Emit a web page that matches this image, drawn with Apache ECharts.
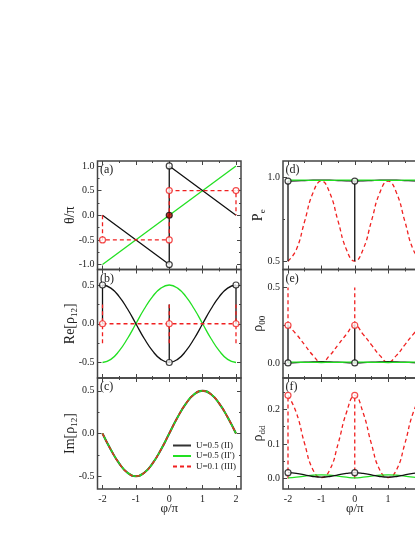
<!DOCTYPE html>
<html>
<head>
<meta charset="utf-8">
<script src="https://cdn.jsdelivr.net/npm/echarts@6/dist/echarts.min.js"></script>
<style>
html, body { margin: 0; padding: 0; background: #fff; overflow: hidden; }
#chart { width: 440px; height: 537px; }
</style>
</head>
<body>
<div id="chart"></div>
<script>
// shared x grid (phi/pi)
const PHI = [-2, -1.75, -1.5, -1.25, -1, -0.75, -0.5, -0.25, 0, 0.25, 0.5, 0.75, 1, 1.25, 1.5, 1.75, 2];
const X_TICKS = [-2, -1, 0, 1, 2];
const X_MINOR = [-1.5, -0.5, 0.5, 1.5];

// (a) theta/pi
const TH_BLACK = [[-2, 0], [0, -1], [0, 1], [2, 0]];
const TH_GREEN = [[-2, -1], [2, 1]];
const TH_RED = [[-2, 0], [-2, -0.5], [0, -0.5], [0, 0.5], [2, 0.5], [2, 0]];
const TH_BLACK_PTS = [[0, -1], [0, 1]];
const TH_RED_PTS = [[-2, -0.5], [0, -0.5], [0, 0.5], [2, 0.5]];
const TH_DOT = [[0, 0]];
const A_TICKS = [-1, -0.5, 0, 0.5, 1];
const A_MINOR = [-0.75, -0.25, 0.25, 0.75];

// (b) Re[rho12]
const RE_BLACK = [0.5, 0.46, 0.35, 0.19, 0, -0.19, -0.35, -0.46, -0.5, -0.46, -0.35, -0.19, 0, 0.19, 0.35, 0.46, 0.5];
const RE_GREEN = [-0.5, -0.46, -0.35, -0.19, 0, 0.19, 0.35, 0.46, 0.5, 0.46, 0.35, 0.19, 0, -0.19, -0.35, -0.46, -0.5];
const RE_RED = [[-2, 0], [2, 0]];
const RE_BLACK_V = [[[-2, 0], [-2, 0.5]], [[0, -0.5], [0, 0.25]], [[2, 0], [2, 0.5]]];
const RE_RED_V = [[[-2, -0.25], [-2, 0.25]], [[0, -0.25], [0, 0.25]], [[2, -0.25], [2, 0.25]]];
const RE_BLACK_PTS = [[-2, 0.5], [0, -0.5], [2, 0.5]];
const RE_RED_PTS = [[-2, 0], [0, 0], [2, 0]];
const BC_TICKS = [-0.5, 0, 0.5];
const BC_MINOR = [-0.25, 0.25];

// (c) Im[rho12] - all three coincide
const IM_ALL = [0, -0.19, -0.35, -0.46, -0.5, -0.46, -0.35, -0.19, 0, 0.19, 0.35, 0.46, 0.5, 0.46, 0.35, 0.19, 0];

// (d) Pe
const PE_BLACK = [0.98, 0.981, 0.983, 0.985, 0.985, 0.985, 0.983, 0.981, 0.98, 0.981, 0.983, 0.985, 0.985, 0.985, 0.983, 0.981, 0.98];
const PE_GREEN = [0.986, 0.986, 0.985, 0.984, 0.984, 0.984, 0.985, 0.986, 0.986, 0.986, 0.985, 0.984, 0.984, 0.984, 0.985, 0.986, 0.986];
const PE_RED = [0.5, 0.57, 0.74, 0.91, 0.98, 0.91, 0.74, 0.57, 0.5, 0.57, 0.74, 0.91, 0.98, 0.91, 0.74, 0.57, 0.5];
const PE_BLACK_V = [[[-2, 0.5], [-2, 0.98]], [[0, 0.5], [0, 0.98]], [[2, 0.5], [2, 0.98]]];
const PE_BLACK_PTS = [[-2, 0.98], [0, 0.98], [2, 0.98]];
const D_TICKS = [0.5, 1];
const D_MINOR = [0.75];

// (e) rho00
const R00_BLACK = [0, 0.002, 0.005, 0.007, 0.008, 0.007, 0.005, 0.002, 0, 0.002, 0.005, 0.007, 0.008, 0.007, 0.005, 0.002, 0];
const R00_GREEN = [0.005, 0.005, 0.004, 0.004, 0.003, 0.004, 0.004, 0.005, 0.005, 0.005, 0.004, 0.004, 0.003, 0.004, 0.004, 0.005, 0.005];
const R00_RED = [0.25, 0.19, 0.12, 0.05, 0.005, 0.05, 0.12, 0.19, 0.25, 0.19, 0.12, 0.05, 0.005, 0.05, 0.12, 0.19, 0.25];
const R00_BLACK_V = [[[-2, 0], [-2, 0.25]], [[0, 0], [0, 0.25]], [[2, 0], [2, 0.25]]];
const R00_RED_V = [[[-2, 0.25], [-2, 0.5]], [[0, 0.25], [0, 0.5]], [[2, 0.25], [2, 0.5]]];
const R00_BLACK_PTS = [[-2, 0], [0, 0], [2, 0]];
const R00_RED_PTS = [[-2, 0.25], [0, 0.25], [2, 0.25]];
const E_TICKS = [0, 0.5];
const E_MINOR = [0.25];

// (f) rhodd
const RDD_BLACK = [0.017, 0.015, 0.011, 0.006, 0.004, 0.006, 0.011, 0.015, 0.017, 0.015, 0.011, 0.006, 0.004, 0.006, 0.011, 0.015, 0.017];
const RDD_GREEN = [0.002, 0.004, 0.007, 0.01, 0.011, 0.01, 0.007, 0.004, 0.002, 0.004, 0.007, 0.01, 0.011, 0.01, 0.007, 0.004, 0.002];
const RDD_RED = [0.24, 0.19, 0.1, 0.025, 0.003, 0.025, 0.1, 0.19, 0.24, 0.19, 0.1, 0.025, 0.003, 0.025, 0.1, 0.19, 0.24];
const RDD_RED_V = [[[-2, 0], [-2, 0.24]], [[0, 0], [0, 0.24]], [[2, 0], [2, 0.24]]];
const RDD_BLACK_PTS = [[-2, 0.017], [0, 0.017], [2, 0.017]];
const RDD_RED_PTS = [[-2, 0.24], [0, 0.24], [2, 0.24]];
const F_TICKS = [0, 0.1, 0.2];
const F_MINOR = [0.05, 0.15, 0.25];

const LEGEND_NAMES = ['U=0.5 (II)', 'U=0.5 (II\')', 'U=0.1 (III)'];

const FONT = '"Liberation Serif", "DejaVu Serif", serif';
const BLACK = '#111';
const GREEN = '#22e022';
const RED = '#f02020';
const FRAME = '#444';
const TXT = '#222';
const DASH = [4, 3];

const zip = ys => PHI.map((x, i) => [x, ys[i]]);

// panel layout: [left, top, width, height]
const GRIDS = [
  [97.5, 161, 143.5, 108.5],
  [97.5, 269.5, 143.5, 108.5],
  [97.5, 378, 143.5, 111],
  [283, 161, 143.5, 108.5],
  [283, 269.5, 143.5, 108.5],
  [283, 378, 143.5, 111],
];
const Y_RANGE = [[-1.1, 1.1], [-0.7, 0.7], [-0.65, 0.65], [0.45, 1.1], [-0.1, 0.62], [-0.03, 0.29]];
const Y_MAJOR = [A_TICKS, BC_TICKS, BC_TICKS, D_TICKS, E_TICKS, F_TICKS];
const Y_MINOR = [A_MINOR, BC_MINOR, BC_MINOR, D_MINOR, E_MINOR, F_MINOR];
const Y_NAMES = ['θ/π', 'Re[ρ{s|12}]', 'Im[ρ{s|12}]', 'P{s|e}', 'ρ{s|00}', 'ρ{s|dd}'];
const PANEL_TAGS = ['(a)', '(b)', '(c)', '(d)', '(e)', '(f)'];

function tickAxis(dim, g, pos, values, len, extra) {
  const range = dim === 'x' ? [-2.15, 2.15] : Y_RANGE[g];
  return Object.assign({
    type: 'value', gridIndex: g, position: pos, min: range[0], max: range[1],
    splitLine: { show: false },
    axisLine: { show: false, onZero: false },
    axisTick: { show: true, inside: true, length: len, customValues: values, lineStyle: { color: FRAME, width: 1 } },
    axisLabel: { show: false },
  }, extra || {});
}

const xAxis = [];
const yAxis = [];
GRIDS.forEach((_, g) => {
  const bottomRow = g === 2 || g === 5;
  xAxis.push(tickAxis('x', g, 'bottom', X_TICKS, 4, {
    axisLabel: { show: bottomRow, customValues: X_TICKS, margin: 5, color: TXT, fontFamily: FONT, fontSize: 10 },
    name: bottomRow ? 'φ/π' : '', nameLocation: 'middle', nameGap: 13, nameMoveOverlap: false,
    nameTextStyle: { fontFamily: FONT, fontSize: 13, color: TXT, verticalAlign: 'top' },
  }));
  xAxis.push(tickAxis('x', g, 'bottom', X_MINOR, 2));
  xAxis.push(tickAxis('x', g, 'top', X_TICKS, 4));
  xAxis.push(tickAxis('x', g, 'top', X_MINOR, 2));

  yAxis.push(tickAxis('y', g, 'left', Y_MAJOR[g], 4, {
    axisLabel: {
      show: true, customValues: Y_MAJOR[g], margin: 3, color: TXT, fontFamily: FONT, fontSize: 10,
      formatter: v => (Math.abs(v) < 1e-9 ? 0 : v).toFixed(1),
    },
    name: Y_NAMES[g], nameLocation: 'middle', nameGap: g < 3 ? 18 : 16, nameMoveOverlap: false,
    nameTextStyle: {
      fontFamily: FONT, fontSize: 14, color: TXT, lineHeight: 18,
      rich: { s: { fontFamily: FONT, fontSize: 9, color: TXT, lineHeight: 10, verticalAlign: 'bottom', padding: [7, 0, 0, 0] } },
    },
  }));
  yAxis.push(tickAxis('y', g, 'left', Y_MINOR[g], 2));
  yAxis.push(tickAxis('y', g, 'right', Y_MAJOR[g], 4));
  yAxis.push(tickAxis('y', g, 'right', Y_MINOR[g], 2));
});

function line(g, data, color, opts) {
  const o = opts || {};
  return {
    type: 'line', name: o.name, xAxisIndex: g * 4, yAxisIndex: g * 4, data,
    symbol: 'none', smooth: o.smooth || false, silent: true,
    lineStyle: { color, width: o.width || 1.3, type: o.dash ? DASH : 'solid' },
    itemStyle: { color },
    z: o.z || 2,
  };
}
function dots(g, data, color, fill) {
  return {
    type: 'scatter', xAxisIndex: g * 4, yAxisIndex: g * 4, data,
    symbol: 'circle', symbolSize: 6, silent: true,
    itemStyle: { color: fill || '#fff', borderColor: color, borderWidth: 1.2 },
    z: 5,
  };
}
const segs = (g, list, color, opts) => list.map(d => line(g, d, color, opts));

const series = [
  // (a)
  line(0, TH_GREEN, GREEN),
  line(0, TH_BLACK, BLACK),
  line(0, TH_RED, RED, { dash: true, z: 3 }),
  dots(0, TH_BLACK_PTS, BLACK),
  dots(0, TH_RED_PTS, RED),
  dots(0, TH_DOT, BLACK, '#b00'),
  // (b)
  line(1, zip(RE_GREEN), GREEN, { smooth: true }),
  line(1, zip(RE_BLACK), BLACK, { smooth: true }),
  ...segs(1, RE_BLACK_V, BLACK),
  line(1, RE_RED, RED, { dash: true, z: 3 }),
  ...segs(1, RE_RED_V, RED, { dash: true, z: 3 }),
  dots(1, RE_BLACK_PTS, BLACK),
  dots(1, RE_RED_PTS, RED),
  // (c)
  line(2, zip(IM_ALL), '#333', { smooth: true, width: 2, name: LEGEND_NAMES[0] }),
  line(2, zip(IM_ALL), GREEN, { smooth: true, width: 1.6, name: LEGEND_NAMES[1] }),
  line(2, zip(IM_ALL), RED, { smooth: true, dash: true, z: 3, name: LEGEND_NAMES[2] }),
  // (d)
  line(3, zip(PE_RED), RED, { smooth: true, dash: true }),
  ...segs(3, PE_BLACK_V, BLACK),
  line(3, zip(PE_BLACK), BLACK, { smooth: true, z: 3 }),
  line(3, zip(PE_GREEN), GREEN, { smooth: true, z: 3 }),
  dots(3, PE_BLACK_PTS, BLACK),
  // (e)
  line(4, zip(R00_RED), RED, { smooth: true, dash: true }),
  ...segs(4, R00_RED_V, RED, { dash: true }),
  ...segs(4, R00_BLACK_V, BLACK),
  line(4, zip(R00_BLACK), BLACK, { smooth: true, z: 3 }),
  line(4, zip(R00_GREEN), GREEN, { smooth: true, z: 3 }),
  dots(4, R00_BLACK_PTS, BLACK),
  dots(4, R00_RED_PTS, RED),
  // (f)
  line(5, zip(RDD_RED), RED, { smooth: true, dash: true }),
  ...segs(5, RDD_RED_V, RED, { dash: true }),
  line(5, zip(RDD_GREEN), GREEN, { smooth: true, z: 3 }),
  line(5, zip(RDD_BLACK), BLACK, { smooth: true, z: 3 }),
  dots(5, RDD_BLACK_PTS, BLACK),
  dots(5, RDD_RED_PTS, RED),
];

const option = {
  animation: false,
  backgroundColor: '#fff',
  grid: GRIDS.map(([l, t, w, h]) => ({
    left: l, top: t, width: w, height: h,
    show: true, borderColor: FRAME, borderWidth: 1.5, backgroundColor: 'transparent',
  })),
  xAxis,
  yAxis,
  legend: {
    data: LEGEND_NAMES,
    orient: 'vertical', left: 172, top: 441,
    itemWidth: 18, itemHeight: 8, itemGap: 1.5, padding: 0,
    selectedMode: false,
    itemStyle: { opacity: 0 },
    textStyle: { fontFamily: FONT, fontSize: 9, color: TXT },
  },
  graphic: PANEL_TAGS.map((t, i) => ({
    type: 'text', left: GRIDS[i][0] + 2.5, top: GRIDS[i][1] + 3,
    style: { text: t, font: '12px ' + FONT, fill: TXT },
  })),
  series,
};

const chart = echarts.init(document.getElementById('chart'), null, { renderer: 'canvas' });
chart.setOption(option);
</script>
</body>
</html>
